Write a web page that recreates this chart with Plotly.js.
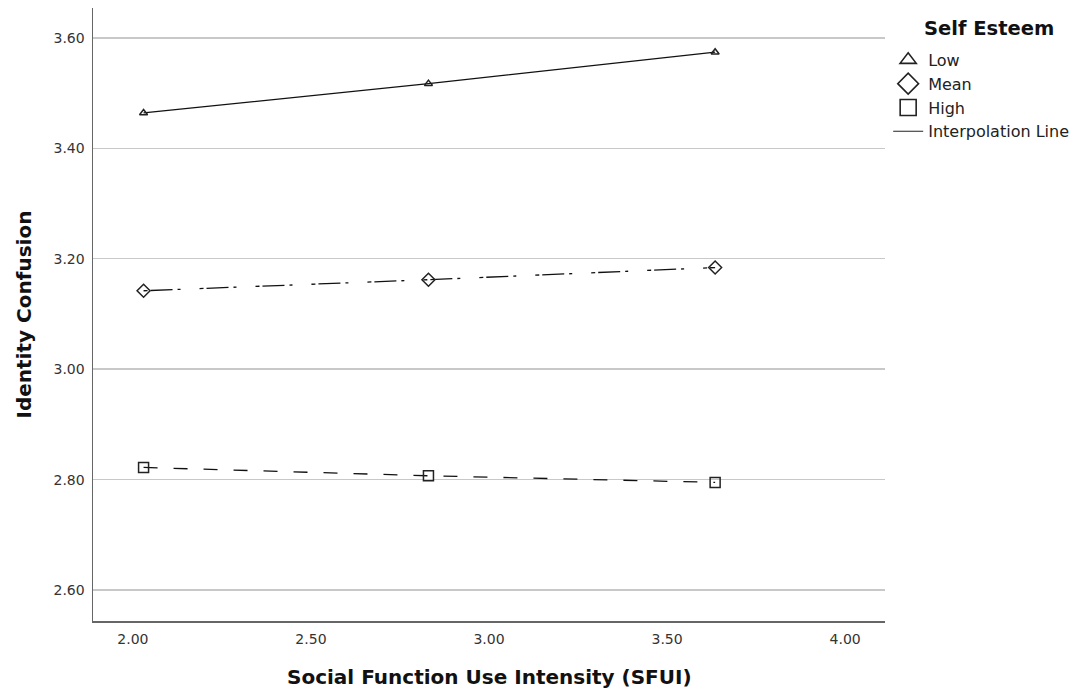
<!DOCTYPE html>
<html>
<head>
<meta charset="utf-8">
<script src="https://cdn.plot.ly/plotly-3.0.1.min.js"></script>
<style>html,body{margin:0;padding:0;background:#fff;}#chart{width:1091px;height:691px;}</style>
</head>
<body>
<div id="chart"></div>
<script>
var sfui = [2.03, 2.83, 3.635];
var lowSE = [3.464, 3.517, 3.574];
var meanSE = [3.142, 3.162, 3.184];
var highSE = [2.822, 2.807, 2.795];
var groupNames = ['Low', 'Mean', 'High'];
var lineName = 'Interpolation Line';
var legendTitle = 'Self Esteem';
var xTitle = 'Social Function Use Intensity (SFUI)';
var yTitle = 'Identity Confusion';
var tickVals = [2.00, 2.50, 3.00, 3.50, 4.00];
var yTickVals = [2.60, 2.80, 3.00, 3.20, 3.40, 3.60];

var series = [lowSE, meanSE, highSE];
var symbols = ['triangle-up-open', 'diamond-open', 'square-open'];
var msizes = [7, 10, 10];
var legSizes = [14, 16, 16];
var dashes = ['solid', '4px,3px,22px,5px,3px,19px', '14px,16px'];
var font = '"DejaVu Sans", Verdana, sans-serif';

var traces = [];
series.forEach(function(s, i){
  traces.push({x: sfui, y: s, mode: 'lines', line: {color: '#111', width: 1.3, dash: dashes[i]},
    showlegend: false, hoverinfo: 'skip'});
});
series.forEach(function(s, i){
  traces.push({x: sfui, y: s, mode: 'markers', showlegend: false,
    marker: {symbol: symbols[i], size: msizes[i], color: '#222', line: {color: '#222', width: 1.5}}});
});
// legend entries
series.forEach(function(s, i){
  traces.push({x: [null], y: [null], mode: 'markers', name: groupNames[i],
    marker: {symbol: symbols[i], size: legSizes[i], color: '#222', line: {color: '#222', width: 1.6}}});
});
traces.push({x: [null], y: [null], mode: 'lines', name: lineName, line: {color: '#222', width: 1.2}});

var layout = {
  width: 1091, height: 691,
  margin: {l: 93, r: 206, t: 8, b: 70},
  paper_bgcolor: '#fff', plot_bgcolor: '#fff',
  font: {family: font, color: '#222'},
  xaxis: {range: [1.888, 4.112], tickvals: tickVals, tickformat: '.2f', showgrid: false, zeroline: false,
    showline: true, linecolor: '#666', linewidth: 1.5, ticks: '', ticklabelstandoff: 5,
    tickfont: {size: 14, color: '#333'}},
  yaxis: {range: [2.544, 3.654], tickvals: yTickVals, tickformat: '.2f', showgrid: true, gridcolor: '#c8c8c8', gridwidth: 1.4,
    zeroline: false, showline: true, linecolor: '#666', linewidth: 1.5, ticks: '', ticklabelstandoff: 4,
    tickfont: {size: 14, color: '#333'}},
  legend: {x: 1.004, xanchor: 'left', y: 0.943, yanchor: 'top', font: {size: 16, color: '#222'},
    tracegroupgap: 0, itemwidth: 30, bgcolor: 'rgba(0,0,0,0)'},
  showlegend: true,
  annotations: [
    {text: '<b>' + legendTitle + '</b>', xref: 'paper', yref: 'paper', x: 1, xshift: 37, xanchor: 'left',
     y: 1, yshift: -20, yanchor: 'middle', showarrow: false, font: {size: 19.5, color: '#111'}},
    {text: '<b>' + xTitle + '</b>', xref: 'paper', yref: 'paper', x: 0.5, xanchor: 'center',
     y: 0, yshift: -56, yanchor: 'middle', showarrow: false, font: {size: 20, color: '#111'}},
    {text: '<b>' + yTitle + '</b>', xref: 'paper', yref: 'paper', x: 0, xshift: -70, xanchor: 'center',
     y: 0.5, yanchor: 'middle', textangle: -90, showarrow: false, font: {size: 20, color: '#111'}}
  ]
};
Plotly.newPlot('chart', traces, layout, {displayModeBar: false, staticPlot: true});
</script>
</body>
</html>
